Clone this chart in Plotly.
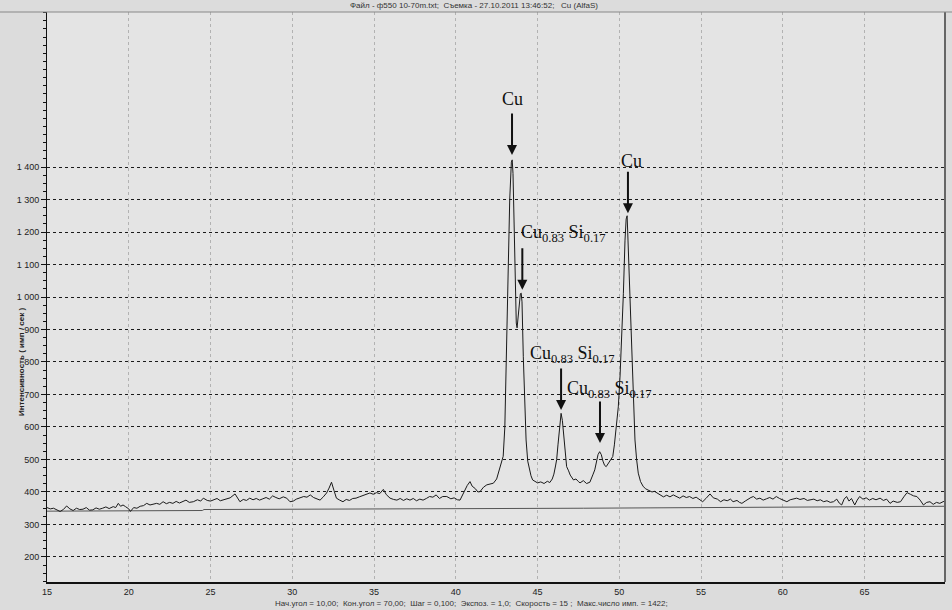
import plotly.graph_objects as go

# Diffractogram: 2-theta (deg) and intensity (counts/s)
TWO_THETA = [
    15.0, 15.2, 15.4, 15.6, 15.8, 16.0, 16.2, 16.4, 16.6, 16.8, 17.0, 17.2, 17.4, 17.6, 17.8,
    18.0, 18.2, 18.4, 18.6, 18.8, 19.05, 19.2, 19.36, 19.5, 19.65, 19.8, 20.0, 20.1, 20.3, 20.5,
    20.7, 20.9, 21.1, 21.3, 21.5, 21.7, 21.9, 22.1, 22.3, 22.5, 22.7, 22.9, 23.1, 23.3, 23.5,
    23.7, 23.95, 24.2, 24.4, 24.56, 24.8, 25.0, 25.17, 25.4, 25.6, 25.78, 26.0, 26.2, 26.5, 26.65,
    26.8, 27.0, 27.2, 27.4, 27.6, 27.8, 28.0, 28.2, 28.4, 28.6, 28.8, 29.0, 29.2, 29.45, 29.66,
    29.86, 30.06, 30.25, 30.47, 30.7, 30.9, 31.1, 31.3, 31.5, 31.7, 31.9, 32.1, 32.25, 32.4, 32.55,
    32.7, 32.9, 33.1, 33.3, 33.5, 33.7, 33.9, 34.1, 34.3, 34.5, 34.75, 34.95, 35.15, 35.35, 35.57,
    35.75, 35.98, 36.2, 36.4, 36.6, 36.8, 37.0, 37.2, 37.4, 37.6, 37.8, 38.0, 38.2, 38.4, 38.6,
    38.8, 39.0, 39.2, 39.45, 39.7, 39.9, 40.1, 40.26, 40.4, 40.57, 40.7, 40.87, 41.0, 41.2, 41.35,
    41.48, 41.7, 41.9, 42.1, 42.3, 42.5, 42.7, 42.8, 42.9, 43.0, 43.1, 43.2, 43.3, 43.4, 43.45,
    43.5, 43.55, 43.62, 43.7, 43.75, 43.85, 43.95, 44.0, 44.05, 44.13, 44.2, 44.3, 44.4, 44.5, 44.6,
    44.7, 44.85, 45.0, 45.2, 45.4, 45.6, 45.75, 45.9, 46.0, 46.1, 46.17, 46.25, 46.35, 46.44, 46.52,
    46.62, 46.7, 46.78, 46.9, 47.0, 47.2, 47.35, 47.5, 47.6, 47.8, 48.0, 48.2, 48.3, 48.4, 48.5,
    48.6, 48.7, 48.8, 48.9, 49.0, 49.1, 49.2, 49.3, 49.45, 49.6, 49.7, 49.8, 49.94, 50.05, 50.15,
    50.25, 50.35, 50.42, 50.48, 50.53, 50.6, 50.68, 50.76, 50.86, 50.96, 51.06, 51.16, 51.3, 51.45, 51.6,
    51.8, 52.0, 52.15, 52.3, 52.5, 52.7, 52.9, 53.1, 53.3, 53.5, 53.7, 53.9, 54.1, 54.3, 54.5,
    54.7, 54.9, 55.1, 55.3, 55.55, 55.75, 56.0, 56.2, 56.4, 56.6, 56.8, 56.96, 57.2, 57.35, 57.5,
    57.7, 57.9, 58.05, 58.2, 58.4, 58.6, 58.8, 59.0, 59.2, 59.4, 59.6, 59.8, 60.0, 60.25, 60.45,
    60.65, 60.85, 61.05, 61.3, 61.5, 61.7, 61.9, 62.1, 62.3, 62.5, 62.7, 62.9, 63.1, 63.3, 63.45,
    63.6, 63.75, 63.9, 64.05, 64.2, 64.4, 64.55, 64.7, 64.9, 65.1, 65.3, 65.5, 65.7, 65.95, 66.15,
    66.35, 66.56, 66.75, 67.0, 67.2, 67.4, 67.6, 67.8, 68.0, 68.2, 68.4, 68.6, 68.8, 69.0, 69.2,
    69.4, 69.6, 69.8, 69.9,
]
INTENSITY = [
    352, 348, 350, 344, 340, 346, 357, 348, 343, 350, 346, 347, 352, 344, 345,
    351, 347, 350, 354, 349, 355, 352, 365, 356, 360, 355, 348, 340, 352, 350,
    356, 358, 365, 360, 362, 365, 362, 370, 364, 368, 365, 371, 366, 370, 375,
    368, 370, 376, 372, 381, 374, 372, 375, 380, 373, 375, 378, 382, 394, 380,
    370, 377, 374, 381, 376, 380, 375, 379, 383, 378, 388, 383, 379, 385, 381,
    370, 372, 378, 381, 386, 384, 391, 383, 380, 375, 385, 397, 412, 430, 405,
    381, 375, 370, 377, 374, 380, 381, 385, 389, 392, 397, 393, 398, 395, 408,
    392, 381, 377, 375, 380, 374, 379, 375, 380, 373, 378, 375, 380, 386, 384,
    391, 380, 386, 386, 379, 382, 376, 375, 390, 406, 420, 432, 418, 410, 400,
    401, 415, 422, 425, 427, 440, 473, 490, 510, 600, 816, 1050, 1300, 1415, 1422,
    1380, 1240, 1060, 920, 905, 955, 1010, 1012, 985, 816, 680, 560, 495, 468, 450,
    437, 432, 428, 431, 426, 433, 429, 440, 455, 480, 500, 545, 610, 642, 620,
    560, 510, 478, 465, 452, 437, 440, 432, 428, 435, 426, 430, 440, 455, 468,
    490, 515, 524, 515, 495, 482, 478, 485, 496, 509, 545, 590, 662, 760, 868,
    1010, 1175, 1240, 1250, 1180, 1105, 960, 816, 683, 560, 500, 458, 432, 418, 410,
    405, 400, 402, 397, 392, 385, 390, 385, 391, 386, 381, 388, 383, 386, 380,
    384, 376, 370, 380, 394, 382, 378, 370, 376, 373, 378, 370, 374, 368, 365,
    372, 379, 383, 386, 378, 381, 375, 379, 383, 378, 386, 380, 375, 370, 376,
    379, 381, 377, 380, 374, 375, 378, 373, 376, 370, 373, 368, 370, 378, 366,
    360, 378, 386, 372, 380, 360, 375, 386, 378, 382, 375, 380, 376, 381, 374,
    378, 365, 372, 368, 370, 385, 398, 393, 388, 386, 375, 360, 368, 370, 362,
    368, 365, 370, 372,
]

# background line drawn under the pattern
BASELINE_X = [15.0, 24.5, 24.6, 47.7, 47.8, 69.9]
BASELINE_Y = [341, 343, 346, 348, 350, 356]

X_TICKS = [15, 20, 25, 30, 35, 40, 45, 50, 55, 60, 65]
Y_TICKS = [200, 300, 400, 500, 600, 700, 800, 900, 1000, 1100, 1200, 1300, 1400]
Y_LABELS = ["200", "300", "400", "500", "600", "700", "800", "900",
            "1 000", "1 100", "1 200", "1 300", "1 400"]

# phase labels and the peak each arrow points to
PHASES = ["Cu", "Cu", "Cu<sub>0.83</sub> Si<sub>0.17</sub>",
          "Cu<sub>0.83</sub> Si<sub>0.17</sub>", "Cu<sub>0.83</sub> Si<sub>0.17</sub>"]
ARROW_X = [43.44, 50.53, 44.07, 46.44, 48.82]
ARROW_Y = [1437, 1258, 1022, 652, 551]

SERIF = "Liberation Serif, Times New Roman, serif"
SANS = "Liberation Sans, Arial, sans-serif"

fig = go.Figure()

fig.add_trace(go.Scatter(
    x=BASELINE_X, y=BASELINE_Y, mode="lines",
    line=dict(color="#555555", width=1), hoverinfo="skip"
))
fig.add_trace(go.Scatter(
    x=TWO_THETA, y=INTENSITY, mode="lines",
    line=dict(color="#1a1a1a", width=1)
))

# label text placement (x anchor, y centre) in data units
label_pos = [
    (43.44, 1609, "center"),
    (50.72, 1418, "center"),
    (43.87, 1195, "left"),
    (44.42, 822, "left"),
    (46.68, 714, "left"),
]
for text, (lx, ly, anchor) in zip(PHASES, label_pos):
    fig.add_annotation(
        x=lx, y=ly, text=text, showarrow=False, xanchor=anchor, yanchor="middle",
        font=dict(family=SERIF, size=18, color="#111111")
    )

for px_, py_ in zip(ARROW_X, ARROW_Y):
    fig.add_annotation(
        x=px_, y=py_, text="", showarrow=True, ax=0, ay=-43,
        arrowhead=2, arrowsize=1, arrowwidth=2, arrowcolor="#111111"
    )

fig.add_annotation(
    xref="paper", yref="paper", x=0.475, y=1.012, yanchor="middle",
    text="Файл - ф550 10-70m.txt;  Съемка - 27.10.2011 13:46:52;   Cu (AlfaS)",
    showarrow=False, font=dict(family=SANS, size=8, color="#333333")
)
fig.add_annotation(
    xref="paper", yref="paper", x=0.473, y=-0.037, yanchor="middle",
    text="Нач.угол = 10,00;  Кон.угол = 70,00;  Шаг = 0,100;  Экспоз. = 1,0;  "
         "Скорость = 15 ;  Макс.число имп. = 1422;",
    showarrow=False, font=dict(family=SANS, size=8, color="#333333")
)
fig.add_annotation(
    xref="paper", yref="paper", x=-0.035, y=0.386, textangle=-90,
    text="<b>Интенсивность ( имп / сек )</b>",
    showarrow=False, font=dict(family=SANS, size=8, color="#222222")
)

# frame on the top and right of the plotting area
fig.add_shape(type="line", xref="paper", yref="paper", x0=1, x1=1, y0=0, y1=1,
              line=dict(color="#666666", width=2))
fig.add_shape(type="line", xref="paper", yref="paper", x0=-0.06, x1=1.01, y0=1, y1=1,
              line=dict(color="#888888", width=1))

fig.update_layout(
    width=952, height=610,
    margin=dict(l=47, r=7, t=12, b=28, autoexpand=False),
    paper_bgcolor="#dcdcdc",
    plot_bgcolor="#e4e4e4",
    showlegend=False,
    font=dict(family=SANS, size=9, color="#222222"),
    xaxis=dict(
        range=[15, 69.92], tickvals=X_TICKS, ticks="", automargin=False,
        showgrid=True, gridcolor="#b2b2b2", griddash="dot", gridwidth=1,
        showline=True, linecolor="#111111", linewidth=2, zeroline=False,
        tickfont=dict(size=9, color="#222222")
    ),
    yaxis=dict(
        range=[123, 1877], tickvals=Y_TICKS, ticktext=Y_LABELS, automargin=False,
        ticks="outside", ticklen=5, tickcolor="#111111",
        minor=dict(dtick=25, tick0=0, ticks="outside", ticklen=3, tickcolor="#111111", showgrid=False),
        showgrid=True, gridcolor="#1a1a1a", griddash="dot", gridwidth=1,
        showline=True, linecolor="#111111", linewidth=1, zeroline=False,
        tickfont=dict(size=9, color="#222222")
    )
)

# the page body has a default 8px margin; drop it so the figure sits at 0,0
fig.write_html("out.html", config={"displayModeBar": False},
               post_script="document.body.style.margin='0';")
